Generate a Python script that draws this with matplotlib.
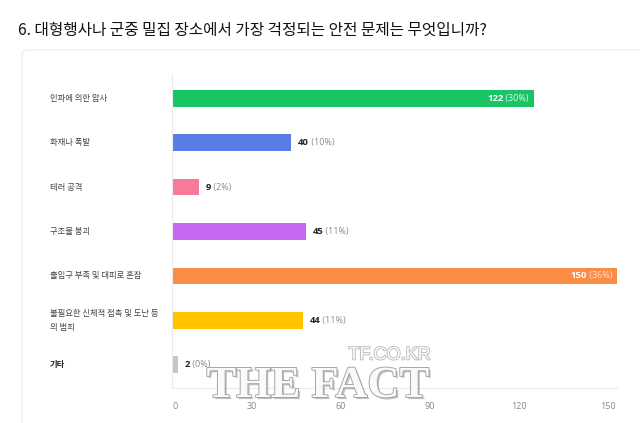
import matplotlib
matplotlib.use("Agg")
import matplotlib.pyplot as plt
import matplotlib.transforms as mtransforms
import matplotlib.patheffects as pe
from matplotlib.patches import FancyBboxPatch

plt.rcParams['font.family'] = ['Noto Sans CJK KR', 'DejaVu Sans']

title = "6. 대형행사나 군중 밀집 장소에서 가장 걱정되는 안전 문제는 무엇입니까?"
categories = [
    "인파에 의한 압사",
    "화재나 폭발",
    "테러 공격",
    "구조물 붕괴",
    "출입구 부족 및 대피로 혼잡",
    "불필요한 신체적 접촉 및 도난 등\n의 범죄",
    "기타",
]
counts = [122, 40, 9, 45, 150, 44, 2]
percents = ["30%", "10%", "2%", "11%", "36%", "11%", "0%"]
colors = ["#19C465", "#5A7CE6", "#F77A98", "#C866F4", "#F98D45", "#FFC300", "#C6C6C6"]
xticks = [0, 30, 60, 90, 120, 150]

VF = ["Open Sans", "DejaVu Sans"]

W, H = 640, 423
fig = plt.figure(figsize=(W / 100, H / 100), dpi=100)
fig.patch.set_facecolor("white")

# panel box
panel = FancyBboxPatch((22 / W, -0.1), 1.0, (H - 50) / H + 0.1,
                       boxstyle="round,pad=0,rounding_size=0.008",
                       transform=fig.transFigure, facecolor="white",
                       edgecolor="#EBEBEB", linewidth=0.8, zorder=-5)
fig.patches.append(panel)

fig.text(18 / W, 1 - 30 / H, title, fontsize=11.3, color="#111111",
         ha="left", va="center")

ax_l, ax_r = 172 / W, 617 / W
ax_b, ax_t = 1 - 388 / H, 1 - 75 / H
ax = fig.add_axes([ax_l, ax_b, ax_r - ax_l, ax_t - ax_b])
ax.set_zorder(1)
ax.set_facecolor("none")
ax.set_xlim(0, 150)
ax.set_ylim(len(categories) - 0.48, -0.52)

ypos = list(range(len(categories)))
ax.barh(ypos, counts, height=0.38, color=colors, zorder=2)

for s in ["top", "right"]:
    ax.spines[s].set_visible(False)
ax.spines["left"].set_color("#EAEAEA")
ax.spines["bottom"].set_color("#EAEAEA")
ax.spines["left"].set_linewidth(0.8)
ax.spines["bottom"].set_linewidth(0.8)
ax.set_yticks([])
ax.set_xticks(xticks)
ax.tick_params(axis="x", length=0, labelbottom=False)

# x tick labels
for t in xticks:
    dx = 3 if t == 0 else -9
    tr = ax.get_xaxis_transform() + mtransforms.ScaledTranslation(dx / 100, 0, fig.dpi_scale_trans)
    ax.text(t, -0.045, str(t), transform=tr, ha="center", va="top",
            fontsize=6.5, color="#888888", family=VF)

# category labels
lab_tr = mtransforms.blended_transform_factory(fig.transFigure, ax.transData)
for i, c in enumerate(categories):
    last = i == len(categories) - 1
    ax.text(50 / W, i, c, transform=lab_tr, ha="left", va="center",
            fontsize=6, color="#222222" if last else "#444444",
            fontweight="bold" if last else "normal",
            linespacing=1.6, clip_on=False)

fig.canvas.draw()
rend = fig.canvas.get_renderer()
# value labels
for i, (v, p) in enumerate(zip(counts, percents)):
    yd = ax.transData.transform((0, i))[1]
    if v > 100:
        tr2 = ax.transData + mtransforms.ScaledTranslation(-5 / 100, 0, fig.dpi_scale_trans)
        t2 = ax.text(v, i, f" ({p})", transform=tr2, ha="right", va="center",
                     fontsize=6.5, color="#E6F7EC" if i == 0 else "#FDE3D1",
                     family=VF, zorder=4)
        bb = t2.get_window_extent(renderer=rend)
        ax.text(bb.x0, yd, f"{v}", transform=mtransforms.IdentityTransform(),
                ha="right", va="center", fontsize=6.8, color="white",
                fontweight="bold", family=VF, zorder=4)
    else:
        tr2 = ax.transData + mtransforms.ScaledTranslation(7 / 100, 0, fig.dpi_scale_trans)
        t1 = ax.text(v, i, f"{v}", transform=tr2, ha="left", va="center",
                     fontsize=6.8, color="#222222", fontweight="bold",
                     family=VF, zorder=4)
        bb = t1.get_window_extent(renderer=rend)
        ax.text(bb.x1, yd, f" ({p})", transform=mtransforms.IdentityTransform(),
                ha="left", va="center", fontsize=6.5, color="#8A8A8A",
                family=VF, zorder=4)

# watermark
fig.text(430 / W, 1 - 355 / H, "TF.CO.KR", ha="right", va="center", fontsize=13,
         color="white", family=["Liberation Sans", "DejaVu Sans"], zorder=10,
         path_effects=[pe.withStroke(linewidth=1.2, foreground="#B5B5B5")])
fig.text(318 / W, 1 - 386 / H, "THE FACT", ha="center", va="center", fontsize=32,
         color="#FAFAFA", fontweight="bold",
         family=["Liberation Serif", "DejaVu Serif"], zorder=10,
         path_effects=[pe.SimplePatchShadow(offset=(1.5, -1.5), shadow_rgbFace="#9A9A9A", alpha=0.6),
                       pe.withStroke(linewidth=1.3, foreground="#A0A0A0")])

fig.savefig("out.png", dpi=100, facecolor="white")
